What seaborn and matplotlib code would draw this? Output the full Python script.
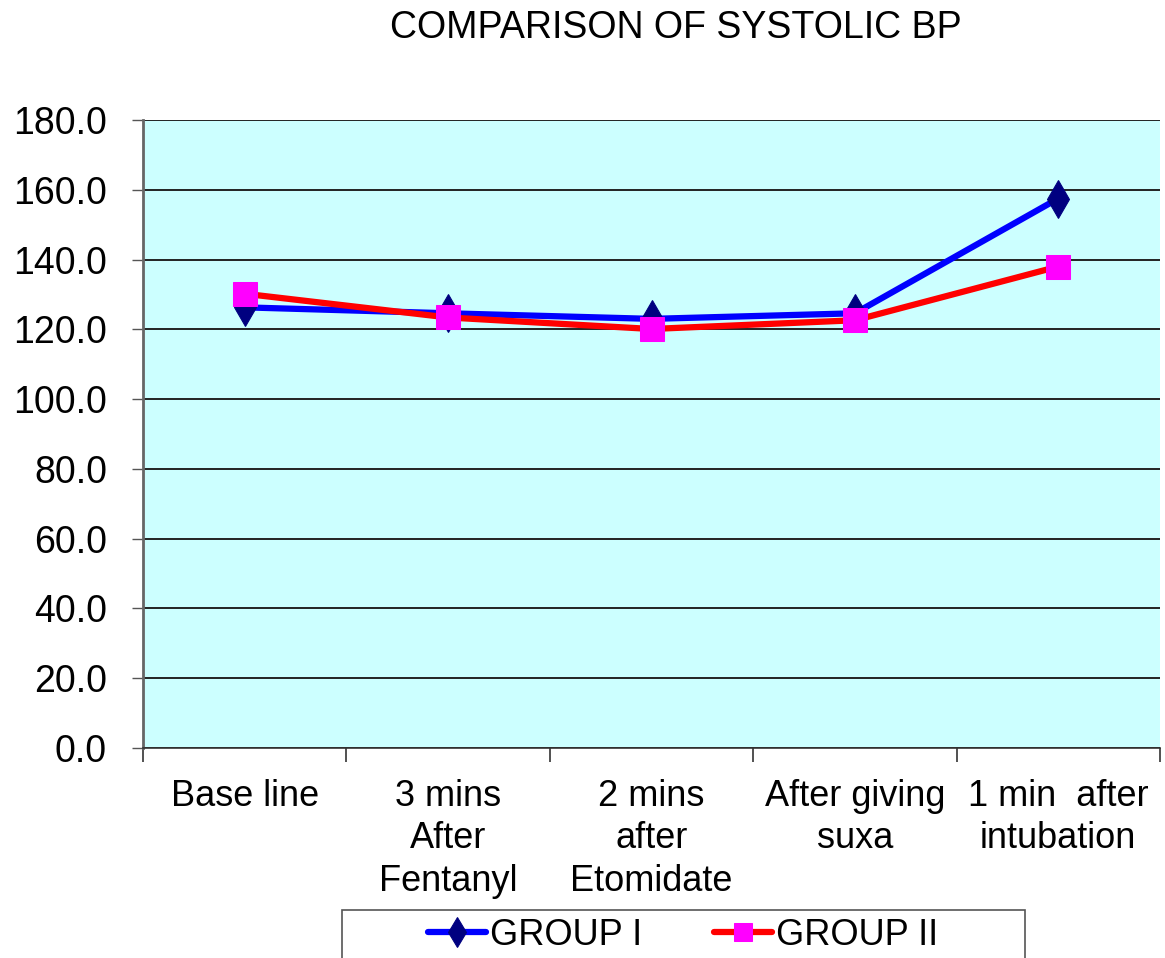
import numpy as np
import pandas as pd
import matplotlib
matplotlib.use("Agg")
import matplotlib.pyplot as plt
import seaborn as sns
from matplotlib.ticker import FixedLocator
from matplotlib.patches import Rectangle

categories = ["Base line", "3 mins\nAfter\nFentanyl", "2 mins\nafter\nEtomidate",
              "After giving\nsuxa", "1 min  after\nintubation"]
group1 = [126.3, 124.6, 123.0, 124.6, 157.5]
group2 = [130.2, 123.4, 120.1, 122.6, 138.0]
yticks = [0, 20, 40, 60, 80, 100, 120, 140, 160, 180]

sns.set_theme(style="white")
plt.rcParams["font.family"] = ["Liberation Sans", "DejaVu Sans"]
plt.rcParams["text.color"] = "black"
plt.rcParams["xtick.color"] = "black"
plt.rcParams["ytick.color"] = "black"

W, H = 1165, 958
fig = plt.figure(figsize=(W / 100, H / 100), dpi=100)
ax = fig.add_axes([143 / W, 1 - 748 / H, (1160 - 143) / W, (748 - 120) / H])
ax.set_facecolor("#CCFFFF")

x = np.arange(len(categories))
sns.lineplot(x=x, y=group1, ax=ax, color="#0000FF", lw=4.5, marker="d",
             markersize=19, markerfacecolor="#000080", markeredgecolor="#000080",
             label="GROUP I", zorder=3)
sns.lineplot(x=x, y=group2, ax=ax, color="#FF0000", lw=4.5, marker="s",
             markersize=17, markerfacecolor="#FF00FF", markeredgecolor="#FF00FF",
             label="GROUP II", zorder=4)

ax.set_xlim(-0.5, len(categories) - 0.5)
ax.set_ylim(0, 180)
ax.set_yticks(yticks)
ax.set_yticklabels([f"{v:.1f}" for v in yticks], fontsize=27)
ax.yaxis.grid(True, color="#222222", lw=1.4)
ax.set_axisbelow(True)

ax.set_xticks(x)
ax.set_xticklabels(categories, fontsize=26, linespacing=1.28)
ax.tick_params(axis="x", which="major", length=0, pad=22)
ax.xaxis.set_minor_locator(FixedLocator(np.arange(-0.5, len(categories), 1.0)))
ax.tick_params(axis="x", which="minor", length=10, color="#333333", width=1.2, bottom=True)
ax.tick_params(axis="y", which="major", length=8, color="#555555", width=1, left=True, pad=18)

for s in ["top", "right"]:
    ax.spines[s].set_visible(False)
ax.spines["left"].set_color("#666666")
ax.spines["left"].set_linewidth(2)
ax.spines["bottom"].set_color("#333333")
ax.spines["bottom"].set_linewidth(1.2)

ax.set_xlabel("")
ax.set_ylabel("")
ax.get_legend().remove()

fig.text(676 / W, 1 - 28 / H, "COMPARISON OF SYSTOLIC BP", ha="center", va="center", fontsize=27)

# legend frame (continues past the bottom edge, as in the reference)
fig.patches.append(Rectangle((342 / W, -0.05), (1025 - 342) / W, (958 - 910) / H + 0.05,
                             transform=fig.transFigure, facecolor="white",
                             edgecolor="#555555", lw=1.2, zorder=1))
handles, labels = ax.get_legend_handles_labels()
leg = fig.legend(handles, labels, loc="upper center", ncol=2,
                 bbox_to_anchor=(683 / W, 1 - 918 / H),
                 fontsize=26, frameon=False, borderpad=0, borderaxespad=0,
                 handlelength=1.6, handletextpad=0.1, columnspacing=2.0,
                 markerscale=0.8)

fig.savefig("out.png", dpi=100)
